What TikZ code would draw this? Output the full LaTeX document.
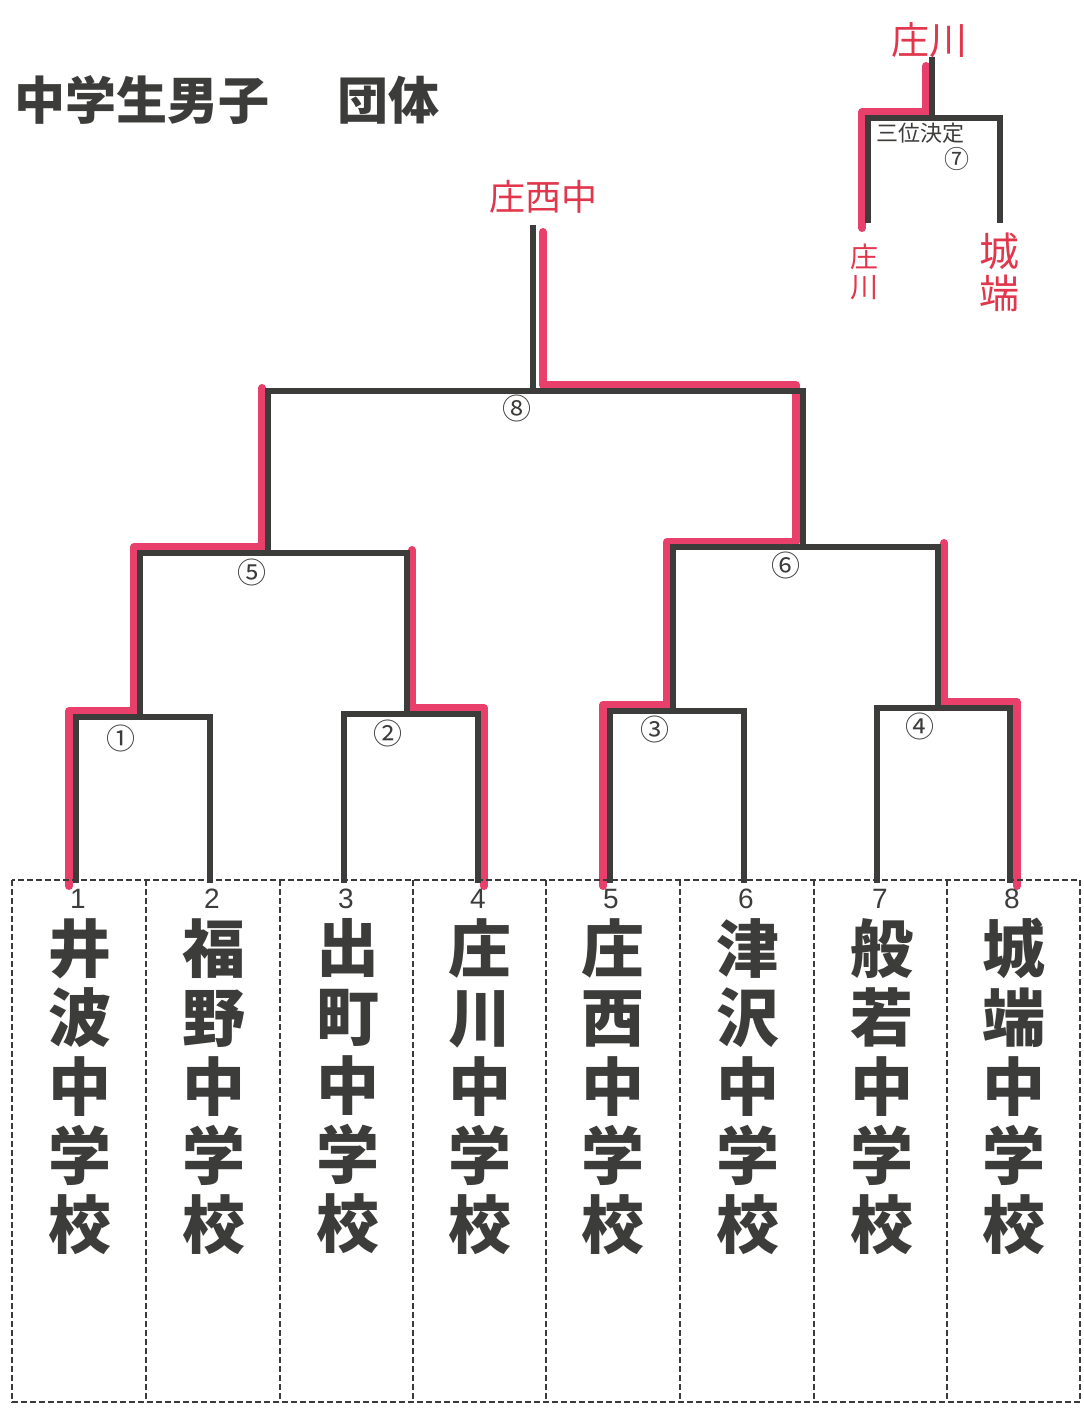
\documentclass[tikz,border=0pt]{standalone}
\usepackage{fontspec}
\setmainfont{Liberation Sans}
\newfontfamily\jp{Noto Sans CJK JP}
\definecolor{ink}{HTML}{3C3C3A}
\definecolor{pen}{HTML}{E8406A}
\definecolor{hand}{HTML}{E2364C}
\definecolor{dash}{HTML}{3A3A3A}
\tikzset{
  bk/.style={draw=ink, line width=6pt, line join=miter, line cap=rect},
  rd/.style={draw=pen, line width=8pt, line join=round, line cap=round},
  grid/.style={draw=dash, line width=1.4pt, dash pattern=on 6pt off 3pt},
  team/.style={font=\jp\bfseries\fontsize{63}{69}\selectfont, text=ink, align=center, inner sep=0pt, anchor=north},
  num/.style={font=\fontsize{28}{28}\selectfont, text=ink, inner sep=0pt},
  circ/.style={font=\jp\fontsize{29}{29}\selectfont, text=ink, inner sep=0pt},
  handw/.style={font=\jp\fontsize{36}{40}\selectfont, text=hand, inner sep=0pt, align=center}
}
\begin{document}
\begin{tikzpicture}[x=1pt,y=-1pt]
\useasboundingbox (0,0) rectangle (1084,1411);
\fill[white] (0,0) rectangle (1084,1411);

% title
\node[font=\jp\bfseries\fontsize{51}{51}\selectfont, text=ink, anchor=west, inner sep=0pt] (title) at (14,100) {中学生男子\hspace{68pt}団体};

% ---- coordinates
\foreach \i/\x in {1/76,2/210,3/344,4/478,5/610,6/744,7/877,8/1010}
  \coordinate (l\i) at (\x,880);
\coordinate (m1L) at (76,717);  \coordinate (m1S) at (140,717); \coordinate (m1R) at (210,717);
\coordinate (m2L) at (344,714); \coordinate (m2S) at (407,714); \coordinate (m2R) at (478,714);
\coordinate (m3L) at (610,711); \coordinate (m3S) at (673,711); \coordinate (m3R) at (744,711);
\coordinate (m4L) at (877,708); \coordinate (m4S) at (938,708); \coordinate (m4R) at (1010,708);
\coordinate (m5L) at (140,553); \coordinate (m5S) at (268,553); \coordinate (m5R) at (407,553);
\coordinate (m6L) at (673,547); \coordinate (m6S) at (803,547); \coordinate (m6R) at (938,547);
\coordinate (fL) at (268,391);  \coordinate (fS) at (533,391);  \coordinate (fR) at (803,391);
\coordinate (fT) at (533,228);
\coordinate (tLb) at (868,220); \coordinate (tL) at (868,118); \coordinate (tS) at (932,118);
\coordinate (tR) at (1000,118); \coordinate (tRb) at (1000,220); \coordinate (tT) at (932,60);

% ---- red highlights (winner paths)
\draw[rd] (69,886) -- (69,711) -- (134,711) -- (134,547) -- (262,547) -- (262,388);
\draw[rd] (484,886) -- (484,708) -- (412,708) -- (412,550);
\draw[rd] (603,886) -- (603,705) -- (667,705) -- (667,542) -- (796,542) -- (796,385) -- (543,385) -- (543,232);
\draw[rd] (1017,886) -- (1017,702) -- (944,702) -- (944,543);
\draw[rd] (862,228) -- (862,112) -- (926,112) -- (926,66);

% ---- black bracket
\draw[bk] (l1) -- (m1L) -- (m1R) -- (l2);
\draw[bk] (l3) -- (m2L) -- (m2R) -- (l4);
\draw[bk] (l5) -- (m3L) -- (m3R) -- (l6);
\draw[bk] (l7) -- (m4L) -- (m4R) -- (l8);
\draw[bk] (m1S) -- (m5L) -- (m5R) -- (m2S);
\draw[bk] (m3S) -- (m6L) -- (m6R) -- (m4S);
\draw[bk] (m5S) -- (fL) -- (fR) -- (m6S);
\draw[bk] (fS) -- (fT);
\draw[bk] (tLb) -- (tL) -- (tR) -- (tRb);
\draw[bk] (tS) -- (tT);

% ---- match numbers
\node[circ] (c1) at (121,738) {①};
\node[circ] (c2) at (388,733) {②};
\node[circ] (c3) at (655,729) {③};
\node[circ] (c4) at (920,726) {④};
\node[circ] (c5) at (252,572) {⑤};
\node[circ] (c6) at (786,565) {⑥};
\node[circ] (c8) at (517,408) {⑧};
\node[circ, font=\jp\fontsize{25}{25}\selectfont] (c7) at (957,159) {⑦};
\node[font=\jp\fontsize{22}{22}\selectfont, text=ink, inner sep=0pt] (third) at (920,133) {三位決定};

% ---- table
\draw[grid] (12,880) rectangle (1080,1402);
\foreach \x in {146,280,413,546,680,814,947}
  \draw[grid] (\x,880) -- (\x,1402);

% ---- entries
\foreach \i/\x/\n in {1/80/井\\波\\中\\学\\校, 2/214/福\\野\\中\\学\\校, 3/348/出\\町\\中\\学\\校, 4/480/庄\\川\\中\\学\\校,
                      5/613/庄\\西\\中\\学\\校, 6/748/津\\沢\\中\\学\\校, 7/882/般\\若\\中\\学\\校, 8/1014/城\\端\\中\\学\\校}
{
  \node[num] (n\i) at (\x-2,899) {\i};
  \node[team] (t\i) at (\x,918) {\n};
}

% ---- handwritten results
\node[handw] (win) at (543,197) {庄西中};
\node[handw, font=\jp\fontsize{38}{38}\selectfont] (third-win) at (929,40) {庄川};
\node[handw, font=\jp\fontsize{28}{30}\selectfont] (tl) at (864,272) {庄\\川};
\node[handw, font=\jp\fontsize{40}{42}\selectfont] (tr) at (999,272) {城\\端};
\end{tikzpicture}
\end{document}
